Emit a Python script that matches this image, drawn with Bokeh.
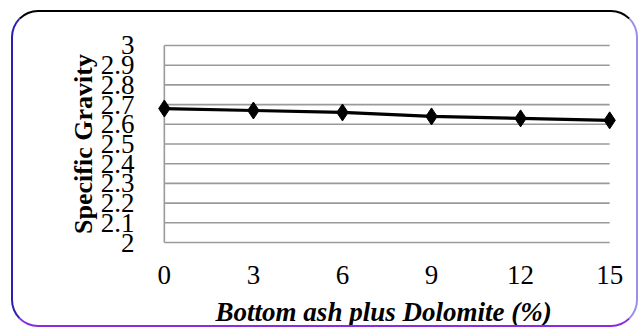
from bokeh.plotting import figure
from bokeh.models import Range1d, FixedTicker
from bokeh.embed import file_html
from bokeh.resources import INLINE

# ---- data ----
x_vals = [0, 3, 6, 9, 12, 15]
specific_gravity = [2.68, 2.67, 2.66, 2.64, 2.63, 2.62]
x_ticks = [0, 3, 6, 9, 12, 15]
y_ticks = [2.0, 2.1, 2.2, 2.3, 2.4, 2.5, 2.6, 2.7, 2.8, 2.9, 3.0]
y_tick_labels = ["2", "2.1", "2.2", "2.3", "2.4", "2.5", "2.6", "2.7", "2.8", "2.9", "3"]
x_title = "Bottom ash  plus Dolomite (%)"
y_title = "Specific Gravity"

FONT = "Liberation Serif"
x_lo, x_hi = min(x_ticks), max(x_ticks)
y_lo, y_hi = min(y_ticks), max(y_ticks)

p = figure(width=627, height=317,
           x_range=Range1d(x_lo - 0.5, x_hi + 0.5),
           y_range=Range1d(y_lo - 0.01, y_hi + 0.01),
           output_backend="svg", toolbar_location=None,
           min_border_left=136, min_border_right=16,
           min_border_top=31, min_border_bottom=85)

p.styles = {
    "margin-left": "11px",
    "margin-top": "10px",
    "border-style": "solid",
    "border-width": "2px",
    "border-color": "#000000 #9a90e8 #8a2be2 #2a1fb0",
    "border-radius": "27px",
    "overflow": "hidden",
}

p.outline_line_color = None
p.background_fill_color = "white"
p.border_fill_color = None
p.xgrid.visible = False
p.ygrid.visible = False

# horizontal gridlines spanning only the data extent
p.segment(x0=[x_lo] * len(y_ticks), x1=[x_hi] * len(y_ticks), y0=y_ticks, y1=y_ticks,
          line_color="#9a9a9a", line_width=1.6)
# vertical axis line at x = 0
p.segment(x0=[x_lo], x1=[x_lo], y0=[y_lo], y1=[y_hi], line_color="#9a9a9a", line_width=1.6)

# series
p.line(x_vals, specific_gravity, line_color="black", line_width=3.2)
p.scatter(x_vals, specific_gravity, marker="diamond", size=17, fill_color="black", line_color="black")

# axes
for ax in (p.xaxis[0], p.yaxis[0]):
    ax.axis_line_color = None
    ax.major_tick_line_color = None
    ax.minor_tick_line_color = None
    ax.major_label_text_font = FONT
    ax.major_label_text_font_size = "27px"
    ax.major_label_text_color = "black"
    ax.axis_label_text_font = FONT
    ax.axis_label_text_color = "black"

p.xaxis.axis_label_text_font_size = "27px"
p.yaxis.axis_label_text_font_size = "26px"
p.xaxis.ticker = FixedTicker(ticks=x_ticks)
p.yaxis.ticker = FixedTicker(ticks=y_ticks)
p.yaxis.major_label_overrides = dict(zip(y_ticks, y_tick_labels))
p.xaxis.major_label_standoff = 15
p.yaxis.major_label_standoff = 9
p.xaxis.axis_label = x_title
p.yaxis.axis_label = y_title
p.xaxis.axis_label_text_font_style = "bold italic"
p.yaxis.axis_label_text_font_style = "bold"
p.xaxis.axis_label_standoff = 10
p.yaxis.axis_label_standoff = 0

open("out.html", "w").write(file_html(p, INLINE))
